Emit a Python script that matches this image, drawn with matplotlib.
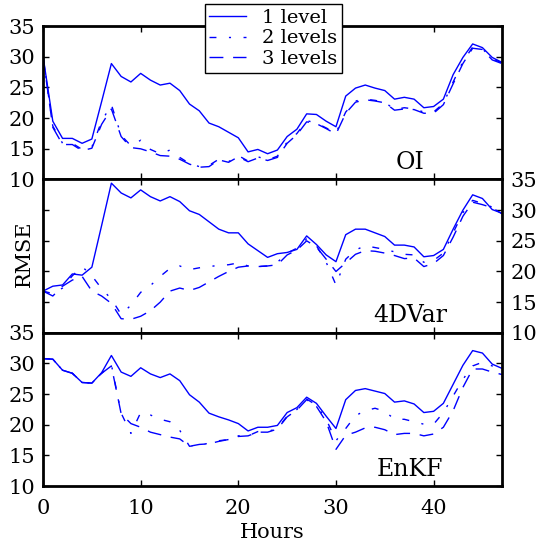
import matplotlib
matplotlib.use("Agg")
import matplotlib.pyplot as plt
import numpy as np

plt.rcParams.update({
    "font.family": "DejaVu Serif",
    "font.size": 15,
    "axes.linewidth": 2.0,
    "xtick.direction": "in",
    "ytick.direction": "in",
    "xtick.major.size": 4,
    "ytick.major.size": 4,
    "xtick.major.pad": 9,
    "ytick.major.pad": 6,
})

# ── Data ─────────────────────────────────────────────────────────────
hours = np.arange(48)
labels = ["1 level", "2 levels", "3 levels"]
panel_names = ["OI", "4DVar", "EnKF"]

oi_1 = [30.1, 19.5, 16.7, 16.7, 15.9, 16.6, 22.7, 28.9, 26.8, 25.9,
        27.3, 26.2, 25.4, 25.7, 24.5, 22.3, 21.2, 19.2, 18.6, 17.7,
        16.8, 14.5, 14.9, 14.2, 14.8, 17.0, 18.2, 20.7, 20.6, 19.5,
        18.6, 23.6, 24.9, 25.4, 24.9, 24.5, 23.1, 23.4, 23.1, 21.7,
        21.9, 23.1, 27.1, 29.9, 32.1, 31.5, 29.9, 29.1]
oi_2 = [30.0, 18.7, 15.9, 15.9, 14.9, 15.3, 19.5, 22.2, 17.2, 15.5,
        16.4, 14.9, 14.2, 14.8, 13.6, 12.6, 12.1, 12.3, 13.3, 12.9,
        13.9, 13.0, 13.7, 13.2, 13.8, 16.1, 17.5, 19.6, 19.2, 18.4,
        17.6, 21.0, 22.8, 23.1, 22.9, 22.6, 21.4, 21.7, 21.5, 21.0,
        21.0, 22.4, 25.9, 29.2, 31.6, 31.3, 29.7, 29.0]
oi_3 = [30.0, 18.5, 15.7, 15.7, 14.7, 15.1, 19.0, 21.5, 17.0, 15.2,
        15.0, 14.5, 13.9, 13.8, 13.3, 12.5, 12.0, 12.1, 13.2, 12.8,
        13.7, 12.9, 13.5, 13.1, 13.6, 15.9, 17.3, 19.4, 19.1, 18.3,
        17.4, 20.8, 22.6, 23.0, 22.8, 22.5, 21.3, 21.5, 21.4, 20.8,
        20.8, 22.2, 25.6, 28.9, 31.4, 31.2, 29.5, 28.9]

var_1 = [16.8, 17.6, 17.8, 19.6, 19.4, 20.7, 27.5, 34.4, 32.8, 32.0,
         33.3, 32.2, 31.5, 32.2, 31.4, 29.9, 29.3, 28.1, 26.9, 26.3,
         26.3, 24.5, 23.4, 22.3, 22.9, 23.1, 23.6, 25.8, 24.4, 22.7,
         21.6, 26.0, 26.9, 26.9, 26.3, 25.7, 24.3, 24.3, 24.0, 22.4,
         22.6, 23.6, 26.9, 30.0, 32.5, 31.9, 30.1, 29.5]
var_2 = [16.8, 16.4, 17.3, 19.3, 20.8, 19.3, 17.2, 15.5, 13.0, 14.5,
         16.6, 17.7, 19.2, 20.5, 20.9, 20.3, 20.6, 20.8, 21.0, 21.1,
         21.4, 20.9, 20.8, 20.9, 21.5, 23.0, 23.8, 25.3, 24.2, 21.5,
         17.8, 22.0, 23.5, 24.2, 23.9, 23.6, 23.2, 22.8, 22.7, 21.5,
         21.8, 23.0, 26.3, 29.6, 31.6, 31.1, 30.5, 29.6]
var_3 = [16.8, 16.0, 17.6, 18.6, 19.2, 16.8, 16.0, 14.8, 12.3, 12.2,
         12.7, 13.6, 15.0, 16.8, 17.3, 16.9, 17.4, 18.3, 19.2, 20.0,
         20.7, 20.9, 20.8, 20.9, 21.1, 22.7, 23.5, 25.0, 24.0, 22.0,
         20.0, 21.4, 22.8, 23.4, 23.3, 23.0, 22.6, 22.1, 22.2, 20.8,
         21.3, 22.6, 25.6, 29.0, 31.3, 30.9, 30.4, 29.4]

enkf_1 = [30.8, 30.7, 28.9, 28.4, 26.9, 26.8, 28.5, 31.3, 28.6, 27.9,
          29.3, 28.3, 27.7, 28.3, 27.2, 24.9, 23.7, 21.9, 21.3, 20.8,
          20.2, 19.0, 19.6, 19.6, 19.9, 22.0, 22.8, 24.5, 23.5, 21.4,
          19.4, 24.1, 25.6, 25.9, 25.5, 25.1, 23.7, 23.9, 23.4, 22.0,
          22.2, 23.5, 26.6, 29.7, 32.1, 31.7, 29.9, 29.2]
enkf_2 = [30.8, 30.7, 28.9, 28.4, 26.9, 26.8, 28.4, 29.8, 21.9, 18.6,
          22.0, 21.6, 20.9, 20.5, 19.1, 16.5, 16.7, 17.0, 17.4, 17.6,
          18.2, 18.2, 18.9, 18.9, 19.4, 21.4, 22.5, 24.2, 23.2, 20.9,
          17.4, 19.4, 21.5, 22.3, 22.7, 22.2, 20.9, 20.9, 20.5, 20.1,
          20.1, 22.0, 24.7, 27.4, 29.6, 30.2, 29.6, 29.2]
enkf_3 = [30.8, 30.7, 28.9, 28.4, 26.9, 26.8, 28.4, 29.6, 21.8, 20.2,
          19.6, 18.8, 18.4, 18.0, 17.7, 16.5, 16.8, 16.9, 17.3, 17.6,
          18.1, 18.2, 18.8, 18.8, 19.3, 21.3, 22.4, 24.1, 23.0, 20.5,
          16.0, 18.3, 18.8, 19.5, 19.6, 19.2, 18.4, 18.6, 18.6, 18.2,
          18.5, 19.6, 22.3, 26.1, 29.1, 29.1, 28.6, 28.2]

panels = [(oi_1, oi_2, oi_3), (var_1, var_2, var_3), (enkf_1, enkf_2, enkf_3)]
styles = [dict(linestyle="-"),
          dict(linestyle="-.", dashes=(5, 9, 1.5, 9)),
          dict(linestyle="--", dashes=(10, 7))]

fig, axes = plt.subplots(3, 1, sharex=True, figsize=(5.38, 5.45), dpi=100)
fig.subplots_adjust(left=0.080, right=0.933, bottom=0.108, top=0.952, hspace=0)

for k, (ax, series, name) in enumerate(zip(axes, panels, panel_names)):
    for vals, st, lab in zip(series, styles, labels):
        ax.plot(hours, vals, color="#0000ff", lw=1.0, label=lab, **st)
    ax.set_xlim(0, 47)
    ax.set_ylim(10, 35)
    ax.set_yticks([10, 15, 20, 25, 30, 35])
    ax.set_xticks([0, 10, 20, 30, 40])
    ax.tick_params(top=True, bottom=True, left=True, right=True, width=1)
    if k == 1:
        ax.tick_params(labelleft=False, labelright=True)
    ax.text(0.80, 0.11, name, transform=ax.transAxes, ha="center",
            va="center", fontsize=17)

axes[2].set_xlabel("Hours", fontsize=15, labelpad=4)
fig.text(0.046, 0.535, "RMSE", rotation=90, ha="center", va="center", fontsize=15)

h, l = axes[0].get_legend_handles_labels()
leg = fig.legend(h, l, loc="upper center", bbox_to_anchor=(0.508, 1.01),
                 fontsize=14, fancybox=False, framealpha=1, edgecolor="black",
                 handlelength=1.9, labelspacing=0.12, borderpad=0.25,
                 handletextpad=0.8)
leg.get_frame().set_linewidth(1.0)

fig.savefig("out.png", dpi=100)
plt.close(fig)
